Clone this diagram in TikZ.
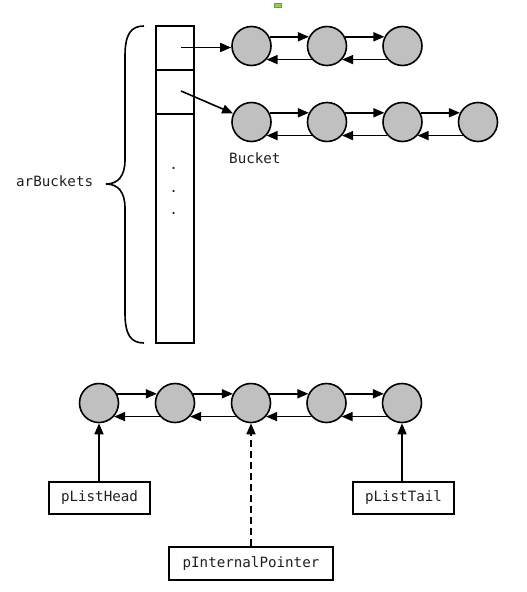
\documentclass[tikz,border=0pt]{standalone}
\usepackage{fontspec}
\setmonofont{DejaVu Sans Mono}
\usetikzlibrary{arrows.meta}
\definecolor{nodegray}{HTML}{C0C0C0}
\definecolor{txt}{HTML}{202020}
\definecolor{mark}{HTML}{8CD050}
\definecolor{markb}{HTML}{64A832}
\tikzset{
  ball/.style={circle,draw=black,fill=nodegray,line width=1.6pt,minimum size=39pt,inner sep=0pt},
  ptr/.style={-{Triangle[length=11pt,width=9pt]},line width=1.6pt},
  lbl/.style={font=\ttfamily\fontsize{14.2}{16}\selectfont,text=txt,inner sep=0pt},
  ptrbox/.style={draw=black,line width=1.6pt,minimum height=32pt,inner sep=0pt,font=\ttfamily\fontsize{14.2}{16}\selectfont,text=txt},
  arr/.style={draw=black,line width=1.7pt}
}
\newcommand{\chain}[2]{%
  \draw[ptr] (#1.27) -- (#2.153);
  \draw[ptr] (#2.-138) -- (#1.-42);
}
\begin{document}
\begin{tikzpicture}[x=1pt,y=-1pt]
\useasboundingbox (0,0) rectangle (527,592);
% small green mark
\filldraw[fill=mark,draw=markb,line width=0.6pt] (274,3.5) rectangle (281,7.5);
% array
\draw[arr] (156,26) rectangle (194,343);
\draw[arr] (156,70) -- (194,70);
\draw[arr] (156,114) -- (194,114);
\foreach \yy in {169,192,214}
  \node[lbl,anchor=base] at (173.6,\yy) {.};
% brace
\draw[line width=1.6pt] (144,26) .. controls (131,26) and (125,34) .. (125,56)
  -- (125,160) .. controls (125,176) and (118,184) .. (106,184)
  .. controls (118,184) and (125,192) .. (125,208)
  -- (125,313) .. controls (125,335) and (131,343) .. (144,343);
\node[lbl,anchor=west] (arb) at (16,181) {arBuckets};
% bucket chains
\node[ball] (a1) at (251.5,46) {};
\node[ball] (a2) at (327,46) {};
\node[ball] (a3) at (402.5,46) {};
\node[ball] (b1) at (251.5,122) {};
\node[ball] (b2) at (327,122) {};
\node[ball] (b3) at (402.5,122) {};
\node[ball] (b4) at (478,122) {};
\chain{a1}{a2}\chain{a2}{a3}
\chain{b1}{b2}\chain{b2}{b3}\chain{b3}{b4}
\coordinate (s1) at (181,47.5);
\coordinate (s2) at (181,91);
\draw[ptr] (s1) -- (a1.west |- s1);
\draw[ptr] (s2) -- (b1.155);
\node[lbl,anchor=west] (bkt) at (229,158) {Bucket};
% global list
\node[ball] (c1) at (99,403) {};
\node[ball] (c2) at (175,403) {};
\node[ball] (c3) at (251,403) {};
\node[ball] (c4) at (326.5,403) {};
\node[ball] (c5) at (402,403) {};
\chain{c1}{c2}\chain{c2}{c3}\chain{c3}{c4}\chain{c4}{c5}
\node[ptrbox,minimum width=101pt] (head) at (99.5,498) {pListHead};
\node[ptrbox,minimum width=101pt] (tail) at (403.5,498) {pListTail};
\node[ptrbox,minimum width=164pt,minimum height=33pt] (internal) at (251,563.5) {pInternalPointer};
\draw[ptr] (head.north -| c1) -- (c1.south);
\draw[ptr] (tail.north -| c5) -- (c5.south);
\draw[ptr,dash pattern=on 7pt off 4pt] (internal.north -| c3) -- (c3.south);
\end{tikzpicture}
\end{document}
